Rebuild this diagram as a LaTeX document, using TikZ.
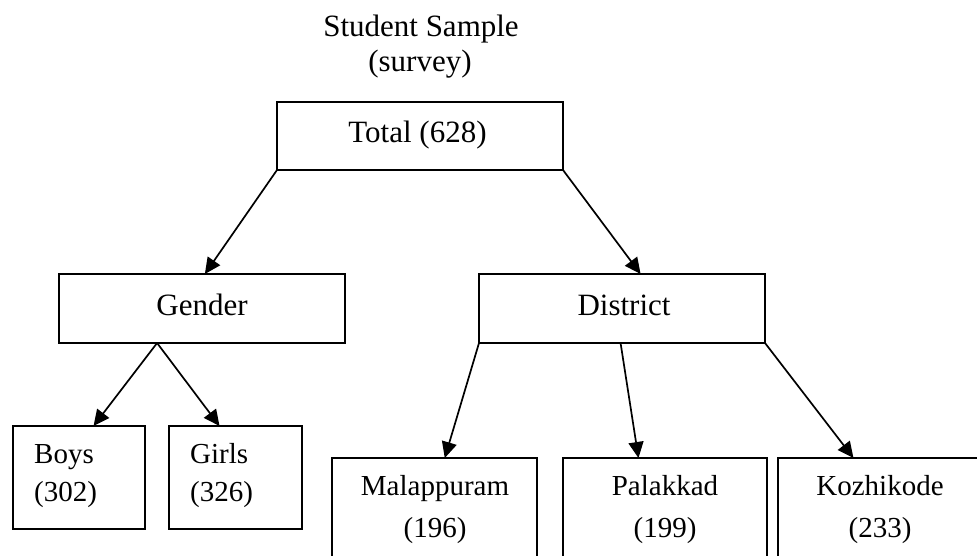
\documentclass[tikz,border=0pt]{standalone}
\usepackage{fontspec}
\setmainfont{Liberation Serif}
\usetikzlibrary{arrows.meta,calc}
\begin{document}
\begin{tikzpicture}[x=1pt,y=-1pt,
 box/.style={draw, line width=1.7pt, rectangle, outer sep=0pt, inner sep=0pt, anchor=north west},
 big/.style={inner sep=0pt, font=\fontsize{31}{37}\selectfont},
 small/.style={inner sep=0pt, font=\fontsize{29}{35}\selectfont},
 arr/.style={line width=1.7pt, -{Triangle[length=16pt,width=15pt]}}]
\useasboundingbox (0,0) rectangle (977,556);
\clip (0,0) rectangle (977,556);
% boxes
\node[box, minimum width=286pt, minimum height=68pt] (total) at (277,102) {};
\node[box, minimum width=286pt, minimum height=69pt] (gender) at (59,274) {};
\node[box, minimum width=286pt, minimum height=69pt] (district) at (479,274) {};
\node[box, minimum width=132pt, minimum height=103pt] (boys) at (13,426) {};
\node[box, minimum width=133pt, minimum height=103pt] (girls) at (169,426) {};
\node[box, minimum width=205pt, minimum height=140pt] (malap) at (332,458) {};
\node[box, minimum width=204pt, minimum height=140pt] (palak) at (563,458) {};
\node[box, minimum width=204pt, minimum height=140pt] (kozhi) at (778,458) {};
% texts
\node[big, anchor=base] (t1) at (421,37) {Student Sample};
\node[big, anchor=base] (t2) at (420,72) {(survey)};
\node[big, anchor=base] (ttotal) at (417.5,143) {Total (628)};
\node[big, anchor=base] (tgender) at (202,315) {Gender};
\node[big, anchor=base] (tdistrict) at (624,315) {District};
\node[small, anchor=base west] (tboys1) at (34,463) {Boys};
\node[small, anchor=base west] (tboys2) at (34,501) {(302)};
\node[small, anchor=base west] (tgirls1) at (190,463) {Girls};
\node[small, anchor=base west] (tgirls2) at (190,501) {(326)};
\node[small, anchor=base] (tmal1) at (435,495) {Malappuram};
\node[small, anchor=base] (tmal2) at (435,537) {(196)};
\node[small, anchor=base] (tpal1) at (665,495) {Palakkad};
\node[small, anchor=base] (tpal2) at (665,537) {(199)};
\node[small, anchor=base] (tkoz1) at (880,495) {Kozhikode};
\node[small, anchor=base] (tkoz2) at (880,537) {(233)};
% connectors
\draw[arr] (total.south west) -- ($(gender.north west)!0.51!(gender.north east)$);
\draw[arr] (total.south east) -- ($(district.north west)!0.565!(district.north east)$);
\coordinate (gsrc) at ($(gender.south west)!0.343!(gender.south east)$);
\draw[arr] (gsrc) -- ($(boys.north west)!0.61!(boys.north east)$);
\draw[arr] (gsrc) -- ($(girls.north west)!0.38!(girls.north east)$);
\draw[arr] (district.south west) -- ($(malap.north west)!0.55!(malap.north east)$);
\draw[arr] ($(district.south west)!0.495!(district.south east)$) -- ($(palak.north west)!0.37!(palak.north east)$);
\draw[arr] (district.south east) -- ($(kozhi.north west)!0.37!(kozhi.north east)$);
\end{tikzpicture}
\end{document}
